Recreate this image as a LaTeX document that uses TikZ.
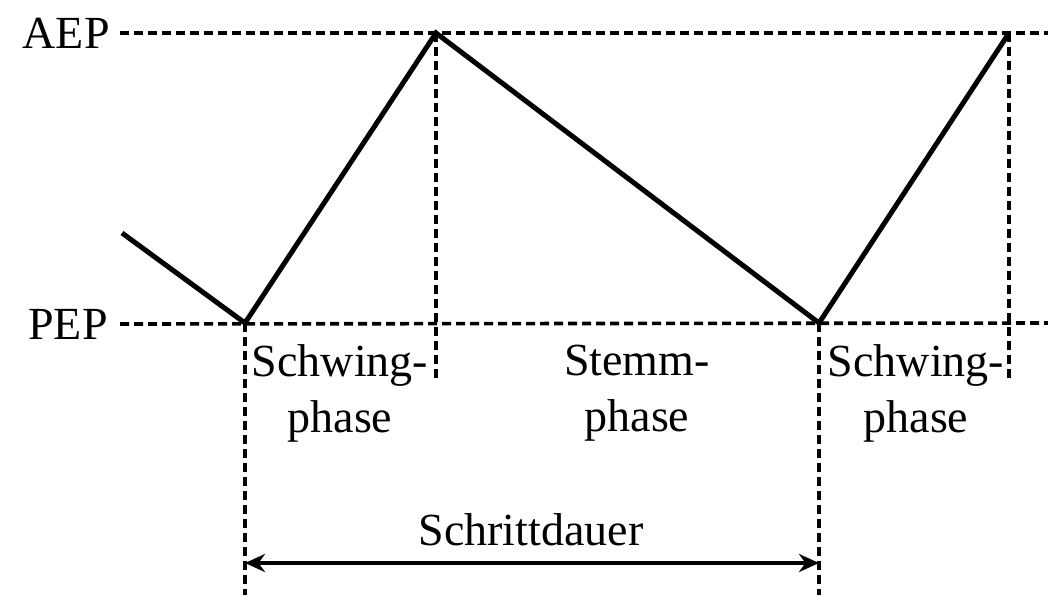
\documentclass[tikz,border=0pt]{standalone}
\usepackage{fontspec}
\setmainfont{Liberation Serif}
\usetikzlibrary{positioning,arrows.meta}
\tikzset{
  guide/.style={black, line width=1.8pt, dash pattern=on 4.5pt off 2.5pt},
  track/.style={black, line width=2.5pt, line join=miter},
  lbl/.style={font=\fontsize{23}{28}\selectfont, inner sep=0pt, align=center},
  span/.style={{Stealth[length=10pt,width=9pt]}-{Stealth[length=10pt,width=9pt]}, line width=2pt}
}

\begin{document}
\begin{tikzpicture}[x=0.5pt,y=-0.5pt]
  \useasboundingbox (0,0) rectangle (1048,595);
  % levels
  \node[lbl, anchor=east] (aep) at (110,33) {AEP};
  \node[lbl, anchor=east] (pep) at (108,324) {PEP};
  \coordinate (aepend) at (1048,33);
  \coordinate (pepend) at (1048,323);
  \draw[guide] ([xshift=5pt]aep.east) -- (aepend);
  \draw[guide] ([xshift=6pt]pep.east) -- (pepend);
  % foot track
  \coordinate (s0) at (122,233);
  \coordinate (p1) at (245,323);
  \coordinate (a1) at (436,33);
  \coordinate (p2) at (819,323);
  \coordinate (a2) at (1009,33);
  \coordinate (a1foot) at (436,380);
  \coordinate (a2foot) at (1009,380);
  \coordinate (p1foot) at (245,595);
  \coordinate (p2foot) at (819,595);
  \draw[guide] (a1) -- (a1foot);
  \draw[guide] (a2) -- (a2foot);
  \draw[guide] (p1) -- (p1foot);
  \draw[guide] (p2) -- (p2foot);
  \draw[track] (s0) -- (p1) -- (a1) -- (p2) -- (a2);
  % phases
  \node[lbl] (swing1) at (340,393) {Schwing-\\phase};
  \node[lbl] (stance) at (637,393) {Stemm-\\phase};
  \node[lbl] (swing2) at (916,393) {Schwing-\\phase};
  % step duration
  \node[lbl] (dauer) at (531,530) {Schrittdauer};
  \coordinate (d1) at (245,563);
  \coordinate (d2) at (819,563);
  \draw[span] (d1) -- (d2);
\end{tikzpicture}
\end{document}
